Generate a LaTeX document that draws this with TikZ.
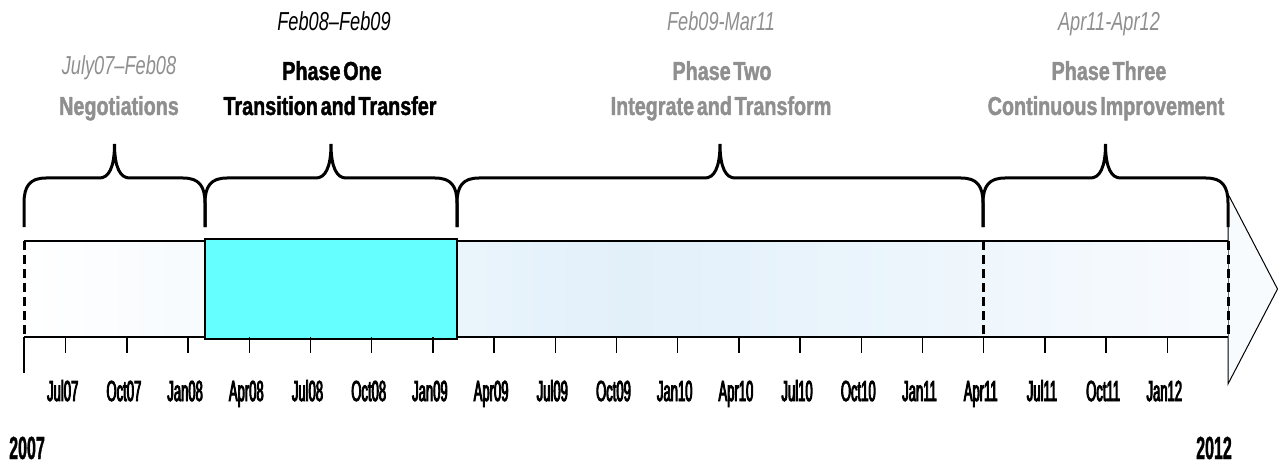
\documentclass[tikz,border=0pt]{standalone}
\usepackage{fontspec}
\setmainfont{Liberation Sans}
\newfontfamily\phasefont[FakeStretch=0.76,WordSpace=0.5,FakeBold=1.5]{Liberation Sans}
\newfontfamily\datefont[FakeStretch=0.7]{Liberation Sans}
\newfontfamily\tickfont[FakeStretch=0.45,FakeBold=3]{Liberation Sans}
\newfontfamily\yearfont[FakeStretch=0.5,FakeBold=1]{Liberation Sans}

\definecolor{phasegray}{RGB}{143,143,143}
\definecolor{barblue}{RGB}{226,240,250}
\definecolor{barend}{RGB}{248,251,254}
\definecolor{phasecyan}{RGB}{102,255,255}

\tikzset{
  datelabel/.style={font=\datefont\itshape\fontsize{26}{28}\selectfont,anchor=base,inner sep=0pt},
  phaselabel/.style={font=\phasefont\bfseries\fontsize{26}{28}\selectfont,anchor=base,inner sep=0pt},
  ticklabel/.style={font=\tickfont\fontsize{29}{30}\selectfont,anchor=base,inner sep=0pt},
  yearlabel/.style={font=\yearfont\bfseries\fontsize{32}{34}\selectfont,anchor=base,inner sep=0pt},
  bracepath/.style={line width=3pt},
  barline/.style={line width=2.5pt},
  tickline/.style={line width=1.5pt},
  divider/.style={line width=3pt,dash pattern=on 9pt off 5pt},
  phasebox/.style={draw,fill=phasecyan,line width=1.5pt,inner sep=0pt,minimum width=252pt,minimum height=100pt}
}

\begin{document}
\begin{tikzpicture}[x=1pt,y=-1pt]
\useasboundingbox (0,0) rectangle (1278,476);

\draw[fill=barend,line width=1pt] (1228,194) -- (1277.5,289) -- (1228,384) -- cycle;
\shade[left color=white,right color=barend,middle color=barblue] (24,241) rectangle (1228,337);
\draw[barline] (24,241) -- (1228,241) (24,337) -- (1228,337);
\node[phasebox] (phaseone) at (331,289) {};
\draw[divider] (24,241) -- (24,337) (983,241) -- (983,337) (1228,241) -- (1228,337);

\draw[tickline] (24,337) -- (24,373);
\foreach \lbl [count=\k from 0] in {Jul07,Oct07,Jan08,Apr08,Jul08,Oct08,Jan09,Apr09,Jul09,Oct09,Jan10,Apr10,Jul10,Oct10,Jan11,Apr11,Jul11,Oct11,Jan12}{
  \pgfmathsetmacro\tx{65.7+61.2*\k}
  \draw[tickline] (\tx,337) -- (\tx,353);
  \node[ticklabel] (tick\k) at (\tx-3,401) {\lbl};
}

\foreach \l/\r in {24/205,205/457,457/983,983/1228}{
  \pgfmathsetmacro\m{(\l+\r)/2}
  \draw[bracepath] (\l,227) -- (\l,203) .. controls (\l,186) and (\l+6,178) .. (\l+22,178)
    -- (\m-15,178) .. controls (\m-6,178) and (\m,168) .. (\m,144)
    .. controls (\m,168) and (\m+6,178) .. (\m+15,178)
    -- (\r-22,178) .. controls (\r-6,178) and (\r,186) .. (\r,203) -- (\r,227);
}

\node[datelabel,phasegray] (negdate) at (119,75) {July07–Feb08};
\node[phaselabel,phasegray] (negtitle) at (119,115) {Negotiations};
\node[datelabel] (onedate) at (334,31) {Feb08–Feb09};
\node[phaselabel] (onetitle) at (332,80) {Phase One};
\node[phaselabel] (onesub) at (330,115) {Transition and Transfer};
\node[datelabel,phasegray] (twodate) at (721,31) {Feb09-Mar11};
\node[phaselabel,phasegray] (twotitle) at (722,80) {Phase Two};
\node[phaselabel,phasegray] (twosub) at (721,115) {Integrate and Transform};
\node[datelabel,phasegray] (threedate) at (1109,31) {Apr11-Apr12};
\node[phaselabel,phasegray] (threetitle) at (1109,80) {Phase Three};
\node[phaselabel,phasegray] (threesub) at (1106,115) {Continuous Improvement};

\node[yearlabel] (ystart) at (27,459) {2007};
\node[yearlabel] (yend) at (1214,459) {2012};
\end{tikzpicture}
\end{document}
